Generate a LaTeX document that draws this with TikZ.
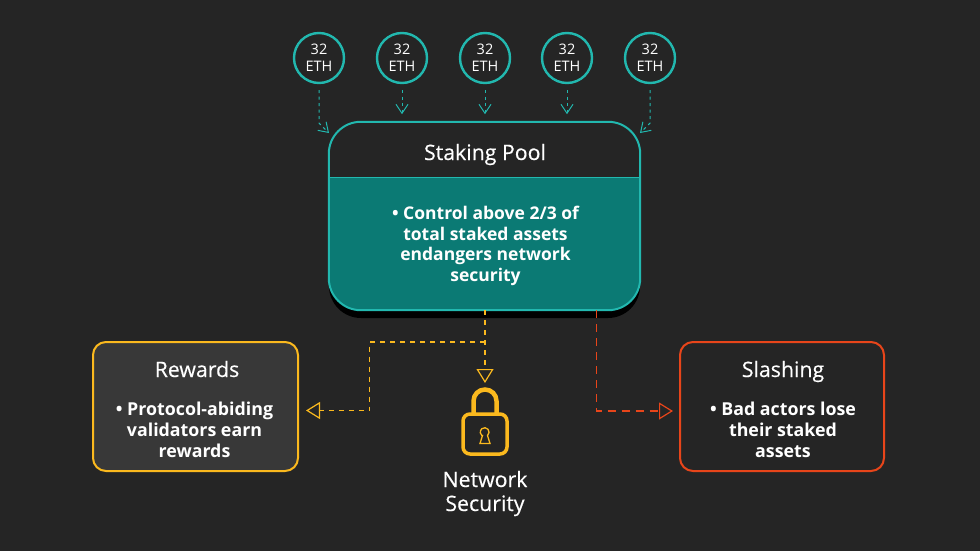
\documentclass[tikz,border=0pt]{standalone}
\usepackage{fontspec}
\setmainfont{Open Sans}
\newfontfamily\medfont[FakeBold=0.35]{Open Sans}
\usetikzlibrary{arrows.meta}
\definecolor{bgdark}{HTML}{252525}
\definecolor{boxgrey}{HTML}{383838}
\definecolor{tealline}{HTML}{22B8AF}
\definecolor{tealfill}{HTML}{0B7A74}
\definecolor{goldline}{HTML}{FBB91E}
\definecolor{redline}{HTML}{E8451A}
\tikzset{
  ethcoin/.style={circle,draw=tealline,line width=2.4pt,minimum size=50pt,inner sep=0pt,text=white,
                  font=\fontsize{14.5}{17}\selectfont,align=center},
  titletext/.style={text=white,font=\fontsize{21.3}{25}\selectfont\medfont,inner sep=0pt,anchor=base},
  bodytext/.style={text=white,font=\fontsize{17.5}{20.7}\selectfont\bfseries,align=center,inner sep=0pt},
  sidetext/.style={bodytext,font=\fontsize{17.8}{21}\selectfont\bfseries},
  ethflow/.style={draw=tealline,line width=1pt,dash pattern=on 3pt off 3.5pt,-{Straight Barb[length=9pt,width=12pt,line width=1pt]}},
  goldflow/.style={draw=goldline,line width=1.4pt,dash pattern=on 5pt off 5pt,-{Triangle[open,length=14pt,width=17pt,line width=1.2pt,fill=bgdark]}},
  redflow/.style={draw=redline,line width=1.4pt,dash pattern=on 8pt off 6pt,-{Triangle[open,length=14pt,width=17pt,line width=1.2pt,fill=bgdark]}}
}
\begin{document}
\begin{tikzpicture}[x=1pt,y=-1pt]
  \fill[bgdark] (0,0) rectangle (980,551);
  \useasboundingbox (0,0) rectangle (980,551);
  % five deposits
  \node[ethcoin] (eth1) at (319,58) {32\\ETH};
  \node[ethcoin] (eth2) at (402,58) {32\\ETH};
  \node[ethcoin] (eth3) at (485,58) {32\\ETH};
  \node[ethcoin] (eth4) at (567,58) {32\\ETH};
  \node[ethcoin] (eth5) at (650,58) {32\\ETH};
  % pool
  \fill[black,rounded corners=32pt] (329,130) rectangle (640,318);
  \node[minimum width=311pt,minimum height=188pt,inner sep=0pt] (pool) at (484.5,216) {};
  \fill[bgdark,rounded corners=32pt] (pool.north west) rectangle (pool.south east);
  \begin{scope}
    \clip (329,177) rectangle (640,320);
    \fill[tealfill,rounded corners=32pt] (pool.north west) rectangle (pool.south east);
  \end{scope}
  \draw[tealline,line width=1pt] (329,177) -- (640,177);
  \draw[tealline,line width=2pt,rounded corners=32pt] (pool.north west) rectangle (pool.south east);
  \node[titletext] (pooltitle) at (485,160) {Staking Pool};
  \node[bodytext] (pooltext) at (485.5,246) {• Control above 2/3 of\\total staked assets\\endangers network\\security};
  % side boxes
  \node[draw=goldline,fill=boxgrey,line width=2pt,rounded corners=13pt,minimum width=205pt,minimum height=129pt] (rewards) at (195.5,406.5) {};
  \node[titletext] (rewardstitle) at (197,377) {Rewards};
  \node[sidetext] (rewardstext) at (194.5,430) {• Protocol-abiding\\validators earn\\rewards};
  \node[draw=redline,line width=2pt,rounded corners=13pt,minimum width=204pt,minimum height=129pt] (slashing) at (782,406.5) {};
  \node[titletext] (slashingtitle) at (783,377) {Slashing};
  \node[sidetext] (slashingtext) at (783,430) {• Bad actors lose\\their staked\\assets};
  % lock
  \coordinate (locktop) at (485,383);
  \draw[goldline,line width=4.5pt] (473.5,415) -- (473.5,401) arc (-180:0:11.5) -- (496.5,415);
  \draw[goldline,line width=3.5pt,rounded corners=7pt] (463,414) rectangle (507,454);
  \draw[goldline,line width=1.3pt] (482.5,435.5) -- (480,443.5) -- (490,443.5) -- (487.5,435.5) arc (50:-230:4.4) -- cycle;
  \node[titletext] (netsec) at (485,487) {Network};
  \node[titletext] (netsecb) at (485,511) {Security};
  % flows
  \coordinate (tipa) at (329,133);
  \coordinate (tipb) at (640,133);
  \coordinate (rewardsin) at (306,410.5);
  \coordinate (slashingin) at (673,411);
  \draw[ethflow] (eth1.south)++(0,6) -- ++(0,33) -- (tipa);
  \draw[ethflow] (eth2.south)++(0,6) -- ++(0,24);
  \draw[ethflow] (eth3.south)++(0,6) -- ++(0,24);
  \draw[ethflow] (eth4.south)++(0,6) -- ++(0,24);
  \draw[ethflow] (eth5.south)++(0,6) -- ++(0,33) -- (tipb);
  \draw[goldflow] (pool.south -| locktop) -- (locktop);
  \draw[goldflow] (485,342) -- (369.5,342) -- (369.5,410.5) -- (rewardsin);
  \draw[redflow] (596.5,310) -- (596.5,411) -- (slashingin);
\end{tikzpicture}
\end{document}
